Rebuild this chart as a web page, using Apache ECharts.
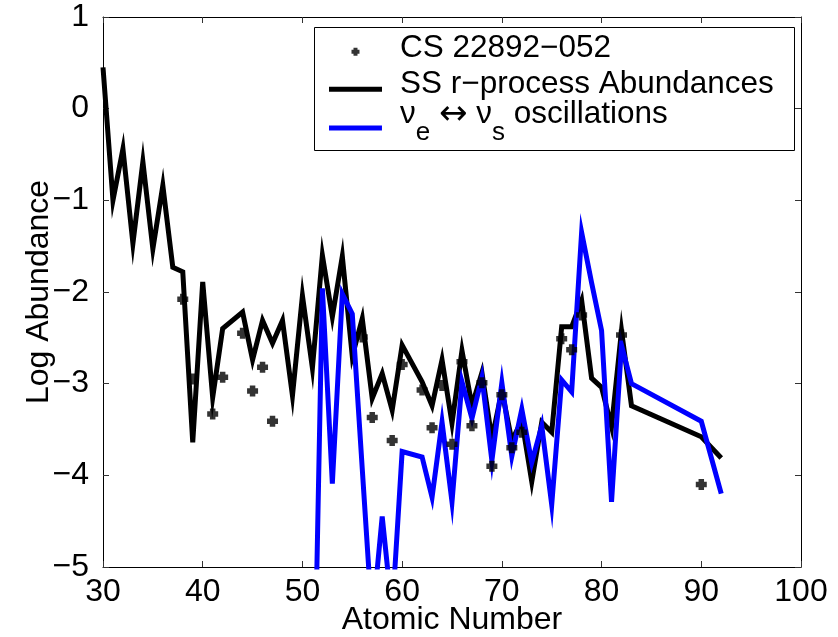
<!DOCTYPE html>
<html><head><meta charset="utf-8">
<script src="https://cdn.jsdelivr.net/npm/echarts@6/dist/echarts.min.js"></script>
<style>html,body{margin:0;padding:0;background:#fff}#c{width:838px;height:637px}</style>
</head><body><div id="c"></div>
<script>
// SS r-process abundances (black line)
const ssZ   = [30,31,32,33,34,35,36,37,38,39,40,41,42,44,45,46,47,48,49,50,51,52,53,54,55,56,57,58,59,60,62,63,64,65,66,67,68,69,70,71,72,73,74,75,76,77,78,79,80,81,82,83,90,92];
const ssVal = [0.45,-1.0,-0.44,-1.47,-0.58,-1.53,-0.84,-1.73,-1.78,-3.64,-1.89,-3.15,-2.40,-2.22,-2.74,-2.31,-2.56,-2.31,-3.13,-2.04,-2.83,-1.60,-2.27,-1.61,-2.70,-2.29,-3.16,-2.89,-3.29,-2.58,-2.98,-3.24,-2.74,-3.43,-2.64,-3.24,-2.88,-3.6,-3.08,-3.62,-3.4,-4.07,-3.42,-3.53,-2.38,-2.38,-2.09,-2.94,-3.04,-3.47,-2.42,-3.24,-3.58,-3.81];
// nu_e <-> nu_s oscillations (blue line)
const oscZ   = [51,52,53,54,55,56,57,58,59,60,62,63,64,65,66,67,68,69,70,71,72,73,74,75,76,77,78,79,80,81,82,83,90,92];
const oscVal = [-7.5,-1.96,-4.09,-2.02,-2.24,-3.93,-5.6,-4.45,-5.5,-3.74,-3.80,-4.24,-3.42,-4.29,-2.98,-3.38,-2.93,-3.84,-2.99,-3.79,-3.28,-3.86,-3.46,-4.32,-2.96,-3.09,-1.35,-1.9,-2.42,-4.29,-2.58,-3.0,-3.41,-4.2];
// CS 22892-052 observations (points)
const obsZ   = [38,39,41,42,44,45,46,47,56,57,59,60,62,63,64,65,66,67,68,69,70,71,72,76,77,78,82,90];
const obsVal = [-2.08,-2.95,-3.33,-2.93,-2.45,-3.08,-2.82,-3.41,-2.49,-3.37,-3.62,-2.79,-3.07,-3.48,-3.02,-3.66,-2.76,-3.46,-2.99,-3.90,-3.12,-3.70,-3.53,-2.51,-2.63,-2.25,-2.47,-4.10];
// axes
const xTicks = {min:30, max:100, step:10};
const yTicks = {min:-5, max:1, step:1};
const names = ['CS 22892\u2212052', 'SS r\u2212process Abundances', 'nu oscillations'];

const FONT = 'Liberation Sans, Arial, Helvetica, sans-serif';
const pair = (zs, vs) => zs.map((z, i) => [z, vs[i]]);
// legend icons: invisible corner dots fix the box so the visible part can be offset
const dotTL = 'M0,0h0.01v0.01h-0.01z ';
const legendPlus = 'path://' + dotTL + 'M14,14h0.01v0.01h-0.01z M5,6h4v2h2v4h-2v2h-4v-2h-2v-4h2z';
const legendLineLow = 'path://' + dotTL + 'M0,9h53v5h-53z';
const legendLineHigh = 'path://M0,0h53v5h-53z M53,14h0.01v0.01h-0.01z';
const markerPath = 'path://M2.5,0h5v2.5h2.5v5h-2.5v2.5h-5v-2.5h-2.5v-5h2.5z';
const fmtNum = v => v < 0 ? '\u2212' + Math.abs(v) : String(v);

const chart = echarts.init(document.getElementById('c'), null, {renderer: 'canvas'});
const axisCommon = {
  axisLine: {show: true, onZero: false, lineStyle: {color: '#000', width: 1}},
  axisTick: {show: true, inside: true, length: 6, lineStyle: {color: '#333', width: 1}},
  splitLine: {show: false}
};
const legendCommon = {
  orient: 'vertical', left: 329, padding: 0, itemGap: 0,
  itemWidth: 53, itemHeight: 14, selectedMode: false,
  textStyle: {fontFamily: FONT, fontSize: 31.5, color: '#000', padding: [0, 0, 0, 13]}
};
chart.setOption({
  animation: false,
  backgroundColor: '#fff',
  grid: {left: 103, top: 17, width: 698, height: 550, containLabel: false, outerBoundsMode: 'none'},
  xAxis: [
    Object.assign({type: 'value', min: xTicks.min, max: xTicks.max, interval: xTicks.step, position: 'bottom',
      name: 'Atomic Number', nameLocation: 'middle', nameGap: 37, nameMoveOverlap: false,
      nameTextStyle: {fontFamily: FONT, fontSize: 32, color: '#000'},
      axisLabel: {fontFamily: FONT, fontSize: 32, color: '#000', margin: 9}}, axisCommon),
    Object.assign({type: 'value', min: xTicks.min, max: xTicks.max, interval: xTicks.step, position: 'top',
      axisLabel: {show: false}}, axisCommon)
  ],
  yAxis: [
    Object.assign({type: 'value', min: yTicks.min, max: yTicks.max, interval: yTicks.step, position: 'left',
      name: 'Log Abundance', nameLocation: 'middle', nameGap: 48, nameRotate: 90, nameMoveOverlap: false,
      nameTextStyle: {fontFamily: FONT, fontSize: 32, color: '#000'},
      axisLabel: {fontFamily: FONT, fontSize: 32, color: '#000', margin: 14, formatter: fmtNum}}, axisCommon),
    Object.assign({type: 'value', min: yTicks.min, max: yTicks.max, interval: yTicks.step, position: 'right',
      axisLabel: {show: false}}, axisCommon)
  ],
  legend: [
    Object.assign({}, legendCommon, {left: 348.5, top: 32.75, data: [{name: names[0], icon: legendPlus}]}),
    Object.assign({}, legendCommon, {top: 68.75, data: [{name: names[1], icon: legendLineLow}]}),
    Object.assign({}, legendCommon, {top: 98.5, data: [{name: names[2], icon: legendLineHigh}],
      textStyle: {fontFamily: FONT, fontSize: 31.5, color: '#000', padding: [0, 0, 0, 13],
        rich: {
          m: {fontFamily: FONT, fontSize: 31.5, color: '#000', lineHeight: 32, verticalAlign: 'top'},
          ar: {fontFamily: 'DejaVu Sans', fontSize: 34, color: '#000', lineHeight: 32, verticalAlign: 'top'},
          s: {fontFamily: FONT, fontSize: 26, color: '#000', lineHeight: 68, verticalAlign: 'middle'}
        }},
      formatter: function () {
        return '{m|\u03bd}{s|e}{m| }{ar|\u2194}{m| \u03bd}{s|s}{m| oscillations}';
      }})
  ],
  graphic: [{type: 'rect', left: 312, top: 25, shape: {width: 480, height: 123},
    style: {fill: 'none', stroke: '#000', lineWidth: 1}, z: 100, silent: true}],
  series: [
    {name: names[0], type: 'scatter', data: pair(obsZ, obsVal), symbol: markerPath, symbolSize: 11,
     itemStyle: {color: '#000'}, z: 5},
    {name: names[1], type: 'line', data: pair(ssZ, ssVal), showSymbol: false, symbol: 'none',
     lineStyle: {color: '#000', width: 5, join: 'miter', miterLimit: 10}, itemStyle: {color: '#000'}, z: 3},
    {name: names[2], type: 'line', data: pair(oscZ, oscVal), showSymbol: false, symbol: 'none',
     lineStyle: {color: '#0000ff', width: 5, join: 'miter', miterLimit: 10}, itemStyle: {color: '#0000ff'}, z: 4}
  ]
});
</script></body></html>
